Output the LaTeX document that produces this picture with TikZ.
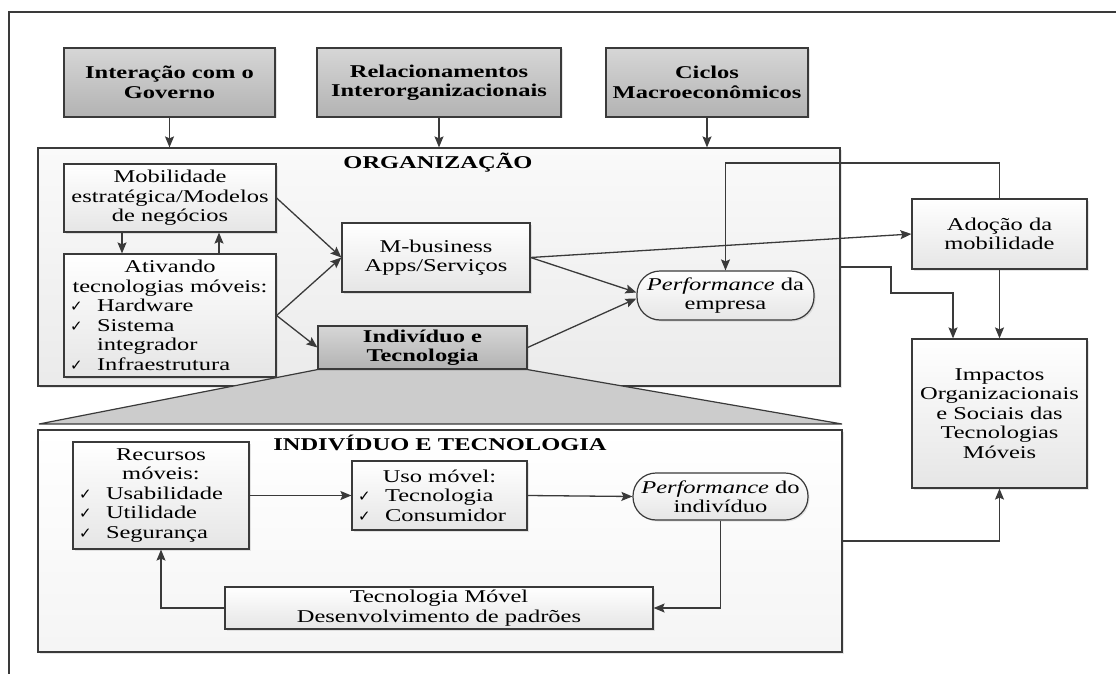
\documentclass[tikz,border=0pt]{standalone}
\usepackage{fontspec}
\setmainfont{Liberation Serif}[FakeStretch=1.36]
\newfontfamily\symfont{DejaVu Sans}
\usetikzlibrary{arrows.meta,shadows}
\definecolor{linegray}{HTML}{3A3A3A}
\newcommand{\dfont}{\fontsize{18}{19.5}\selectfont}
\newcommand{\chk}{\makebox[30pt][l]{\hspace{3pt}{\symfont\fontsize{15}{15}\selectfont ✓}}}
\begin{document}
\begin{tikzpicture}[x=1pt, y=-1pt,
        base/.style={draw=linegray, line width=1.2pt, top color=white, bottom color=black!10, font=\dfont, inner sep=3pt, drop shadow={shadow xshift=1.5pt, shadow yshift=-1.5pt, opacity=0.2}},
        box/.style={base, align=center},
        listbox/.style={base},
        greybox/.style={box, top color=black!16, bottom color=black!30, font=\dfont\bfseries},
        pill/.style={box, rounded corners=23pt},
        pageframe/.style={draw=linegray, line width=1.2pt},
        arr/.style={draw=linegray, line width=1.3pt, -{Stealth[length=11pt, width=9pt, inset=2pt]}},
        title/.style={font=\dfont\bfseries}
    ]
    \useasboundingbox (0,0) rectangle (1116,674);
    \draw[pageframe] (1116,12) -- (9,12) -- (9,674);

    % external factors
    \node[greybox, minimum width=211pt, minimum height=69pt] (gov) at (169.5,82.5) {Interação com o\\Governo};
    \node[greybox, minimum width=244pt, minimum height=69pt] (rel) at (439,82.5) {Relacionamentos\\Interorganizacionais};
    \node[greybox, minimum width=202pt, minimum height=69pt] (cic) at (707,82.5) {Ciclos\\Macroeconômicos};

    % organization
    \node[base, top color=black!2, bottom color=black!8, minimum width=802pt, minimum height=238pt] (org) at (439,267) {};
    \node[title] (orgtitle) at (438,163) {ORGANIZAÇÃO};
    \node[box, minimum width=212pt, minimum height=68pt] (mob) at (170,198) {Mobilidade\\estratégica/Modelos\\de negócios};
    \node[listbox, text width=206pt, minimum height=123pt] (ativ) at (170,315.5) {\centering Ativando\\tecnologias móveis:\par\raggedright \chk Hardware\\ \chk Sistema\\ \hspace*{30pt}integrador\\ \chk Infraestrutura};
    \node[box, minimum width=188pt, minimum height=69pt] (mbiz) at (436,257.5) {M-business\\Apps/Serviços};
    \node[greybox, inner sep=2pt, minimum width=209pt, minimum height=43pt] (ind) at (422.5,347.5) {Indivíduo e\\Tecnologia};
    \node[pill, minimum width=177pt, minimum height=49pt] (perf) at (725.5,295.5) {\textit{Performance} da\\empresa};

    \node[box, minimum width=175pt, minimum height=70pt] (adop) at (999.5,234) {Adoção da\\mobilidade};
    \node[box, minimum width=175pt, minimum height=149pt] (imp) at (999.5,413.5) {Impactos\\Organizacionais\\e Sociais das\\Tecnologias\\Móveis};

    % individual and technology
    \node[base, top color=white, bottom color=black!4, minimum width=804pt, minimum height=222pt] (indt) at (440,541) {};
    \filldraw[draw=linegray, line width=1.2pt, fill=black!20] (ind.south west) -- (ind.south east) -- (842,424) -- (39,424) -- cycle;
    \node[title] (indtitle) at (440,443) {INDIVÍDUO E TECNOLOGIA};
    \node[listbox, text width=170pt, minimum height=107pt] (rec) at (161,495.5) {\centering Recursos\\móveis:\par\raggedright \chk Usabilidade\\ \chk Utilidade\\ \chk Segurança};
    \node[listbox, text width=169pt, minimum height=69pt] (uso) at (439.5,495.5) {\centering Uso móvel:\par\raggedright \chk Tecnologia\\ \chk Consumidor};
    \node[pill, minimum width=175pt, minimum height=47pt] (perfi) at (720.5,496.5) {\textit{Performance} do\\indivíduo};
    \node[box, minimum width=428pt, minimum height=42pt] (tecm) at (439,608) {Tecnologia Móvel\\Desenvolvimento de padrões};

    % connectors
    \draw[arr] (gov.south) -- (gov.south |- org.north);
    \draw[arr] (rel.south) -- (rel.south |- org.north);
    \draw[arr] (cic.south) -- (cic.south |- org.north);
    \draw[arr] ([xshift=-48pt]mob.south) -- ([xshift=-48pt]mob.south |- ativ.north);
    \draw[arr] ([xshift=49pt]ativ.north) -- ([xshift=49pt]ativ.north |- mob.south);
    \draw[arr] (mob.east) -- (mbiz.west);
    \draw[arr] (ativ.east) -- (mbiz.west);
    \draw[arr] (ativ.east) -- (ind.west);
    \draw[arr] (mbiz.east) -- (adop.west);
    \draw[arr] (mbiz.east) -- ([yshift=3pt]perf.west);
    \draw[arr] (ind.east) -- ([yshift=-3pt]perf.west);
    \coordinate (adtop) at (725.5,163);
    \draw[arr] (adop.north) |- (adtop) -- (perf.north);
    \coordinate (orgk) at (891,293);
    \draw[arr] (org.east) -| (orgk) -| ([xshift=-46.5pt]imp.north);
    \draw[arr] (adop.south) -- (imp.north);
    \draw[arr] (rec.east) -- (uso.west);
    \draw[arr] (uso.east) -- (perfi.west);
    \draw[arr] (perfi.south) |- (tecm.east);
    \draw[arr] (tecm.west) -| (rec.south);
    \draw[arr] (indt.east) -| (imp.south);
\end{tikzpicture}
\end{document}
